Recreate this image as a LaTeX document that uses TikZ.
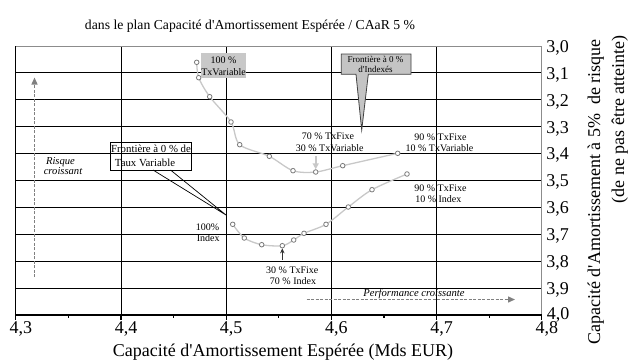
\documentclass[tikz,border=0pt]{standalone}
\usepackage{fontspec}
\setmainfont{Liberation Serif}
\usetikzlibrary{arrows.meta}
\pgfdeclarelayer{grid}
\pgfsetlayers{grid,main}
\definecolor{curvegray}{HTML}{C8C8C8}
\definecolor{markgray}{HTML}{7A7A7A}
\definecolor{boxgray}{HTML}{C8C8C8}
\definecolor{callgray}{HTML}{C4C4C4}
\definecolor{dashgray}{HTML}{808080}
\definecolor{framegray}{HTML}{8C8C8C}
\newcommand{\apos}{\textquotesingle}
\tikzset{
  gridline/.style={line width=0.9pt, black},
  frameline/.style={line width=0.9pt, framegray},
  axisline/.style={line width=1.1pt, black},
  ptmark/.style={circle, draw=markgray, fill=white, line width=0.8pt, inner sep=0pt, minimum size=4.6pt},
  curveline/.style={curvegray, line width=1.3pt},
  lbl/.style={font=\fontsize{10}{12}\selectfont, inner sep=0pt},
  smalllbl/.style={font=\fontsize{9}{11}\selectfont, inner sep=0pt},
  itlbl/.style={font=\fontsize{10.6}{12}\selectfont\itshape, inner sep=0pt},
  biglbl/.style={font=\fontsize{18}{20}\selectfont, inner sep=0pt},
  dasharrow/.style={dashgray, line width=1.4pt, dash pattern=on 3pt off 1.5pt, -{Triangle[length=7pt,width=6pt]}},
  grayarrow/.style={curvegray, line width=1.6pt, -{Triangle[length=6pt,width=6pt]}},
  blackarrow/.style={black!80, line width=0.8pt, -{Stealth[length=5pt,width=4.5pt]}},
}
\begin{document}
\begin{tikzpicture}[x=1pt,y=-1pt]
\useasboundingbox (0,0) rectangle (628,359);
% ---------- grid, frame, ticks
\begin{pgfonlayer}{grid}
\foreach \i in {1,...,9} \draw[gridline] (15.8,46+26.9*\i) -- (541.8,46+26.9*\i);
\foreach \i in {1,...,4} \draw[gridline] (15.8+105.2*\i,46) -- (15.8+105.2*\i,315);
\draw[frameline] (15.8,46) -- (541.8,46) -- (541.8,315);
\draw[axisline] (15.8,46) -- (15.8,315) -- (541.8,315);
\foreach \i in {0,...,5} \draw[axisline] (15.8+105.2*\i,315) -- ++(0,4.5);
\foreach \i in {0,...,4} \draw[axisline] (68.4+105.2*\i,315) -- ++(0,2.5);
\end{pgfonlayer}
% ---------- titles and axis labels
\node[font=\fontsize{13.7}{15}\selectfont, inner sep=0pt, anchor=base] (title) at (250,29) {dans le plan Capacité d\apos Amortissement Espérée / CAaR 5 \%};
\foreach \i in {3,...,8} \node[biglbl, anchor=base] (xl\i) at (15.8+105.2*\i-315.6+5,333.3) {4,\i};
\foreach \i in {0,...,9} \node[biglbl, anchor=base] (yl\i) at (557.5,52.3+26.9*\i) {3,\i};
\node[biglbl, anchor=base] (yl10) at (558,319.3) {4,0};
\node[biglbl, anchor=base] (xtitle) at (283,356) {Capacité d\apos Amortissement Espérée (Mds EUR)};
\node[biglbl, anchor=base, rotate=90] (ytitleA) at (600,192) {Capacité d\apos Amortissement à 5\%\hspace{0.5em}de risque};
\node[biglbl, anchor=base east, rotate=90] (ytitleB) at (624,35) {(de ne pas être atteinte)};
% ---------- curves
\foreach \n/\x/\y in {U1/196.7/62.3, U2/198.7/77.7, U3/209.7/96.7, U4/231/122, U5/239.7/144.7, U6/269.3/156.3, U7/293/170.7, U8/315.7/172, U9/342.7/165.7, U10/397.7/153.3,
  L1/232.7/224.3, L2/244.3/238, L3/261.7/244.7, L4/282.3/245.7, L5/293.7/240, L6/304/233.3, L7/326/224.3, L8/348.3/207, L9/372/189.7, L10/407/174}
  \coordinate (\n) at (\x,\y);
\draw[curveline] plot[smooth, tension=0.5] coordinates {(U1) (U2) (U3) (U4) (U5) (U6) (U7) (U8) (U9) (U10)};
\draw[curveline] plot[smooth, tension=0.5] coordinates {(L1) (L2) (L3) (L4) (L5) (L6) (L7) (L8) (L9) (L10)};
\foreach \n in {U1,U2,U3,U4,U5,U6,U7,U8,U9,U10,L1,L2,L3,L4,L5,L6,L7,L8,L9,L10}
  \node[ptmark] (m\n) at (\n) {};
% ---------- 100 % TxVariable box
\node[fill=boxgray, inner sep=0pt, minimum width=45pt, minimum height=25pt] (tvbox) at (223.5,65.2) {};
\node[lbl, anchor=base] (tvA) at (223.5,63.6) {100 \%};
\node[lbl, anchor=base] (tvB) at (223.5,75) {TxVariable};
% ---------- Frontière à 0 % d'Indexés callout
\coordinate (iNW) at (341.3,54);
\coordinate (iNE) at (411,54);
\coordinate (iSE) at (411,74.3);
\coordinate (iB2) at (368.3,74.3);
\coordinate (itip) at (361.7,130);
\coordinate (iB1) at (356,74.3);
\coordinate (iSW) at (341.3,74.3);
\filldraw[fill=callgray, draw=black!75, line width=0.8pt] (iNW) -- (iNE) -- (iSE) -- (iB2) -- (itip) -- (iB1) -- (iSW) -- cycle;
\node[smalllbl, anchor=base] (idxA) at (375.5,62) {Frontière à 0 \%};
\node[smalllbl, anchor=base] (idxB) at (375.5,72.3) {d\apos Indexés};
% ---------- Frontière à 0 % de Taux Variable callout
\node[draw=black, line width=0.8pt, inner sep=0pt, minimum width=81pt, minimum height=27.5pt] (tvcall) at (150.6,156.3) {};
\coordinate (tvtip) at (226,215);
\coordinate (tvb1) at (153,170);
\coordinate (tvb2) at (170.5,170);
\draw[black, line width=0.7pt] (tvb1) -- (tvtip) -- (tvb2);
\node[font=\fontsize{10.8}{13}\selectfont, inner sep=0pt, anchor=base] (tvcA) at (151,152.3) {Frontière à 0 \% de};
\node[font=\fontsize{10.8}{13}\selectfont, inner sep=0pt, anchor=base] (tvcB) at (145,166) {Taux Variable};
% ---------- labels
\node[lbl, anchor=base] (l70a) at (328,139.3) {70 \% TxFixe};
\node[lbl, anchor=base] (l70b) at (329.7,151) {30 \% TxVariable};
\node[lbl, anchor=base] (l90a) at (440.5,140.3) {90 \% TxFixe};
\node[lbl, anchor=base] (l90b) at (439.5,151.5) {10 \% TxVariable};
\node[lbl, anchor=base] (l90c) at (440.5,191.5) {90 \% TxFixe};
\node[lbl, anchor=base] (l90d) at (438.3,202.3) {10 \% Index};
\node[lbl, anchor=base east] (l100a) at (219.5,230.7) {100\%};
\node[lbl, anchor=base east] (l100b) at (219.8,241) {Index};
\node[lbl, anchor=base] (l30a) at (292.3,273.5) {30 \% TxFixe};
\node[lbl, anchor=base] (l30b) at (293,284.3) {70 \% Index};
\draw[grayarrow] ([yshift=-5pt]l70b.south -| mU8) -- (mU8.north);
\draw[blackarrow] ([yshift=6.5pt]l30a.north -| mL4) -- (mL4.south);
% ---------- risk / performance arrows
\node[itlbl, anchor=base] (risqA) at (60.5,164) {Risque};
\node[itlbl, anchor=base] (risqB) at (63,174.5) {croissant};
\coordinate (vbot) at (34.5,277);
\coordinate (vtop) at (34.5,77.5);
\draw[dasharrow] (vbot) -- (vtop);
\node[itlbl, anchor=base] (perf) at (414,296.5) {Performance croissante};
\coordinate (hleft) at (306.7,299.5);
\coordinate (hright) at (515,299.5);
\draw[dasharrow] (hleft) -- (hright);
\end{tikzpicture}
\end{document}
